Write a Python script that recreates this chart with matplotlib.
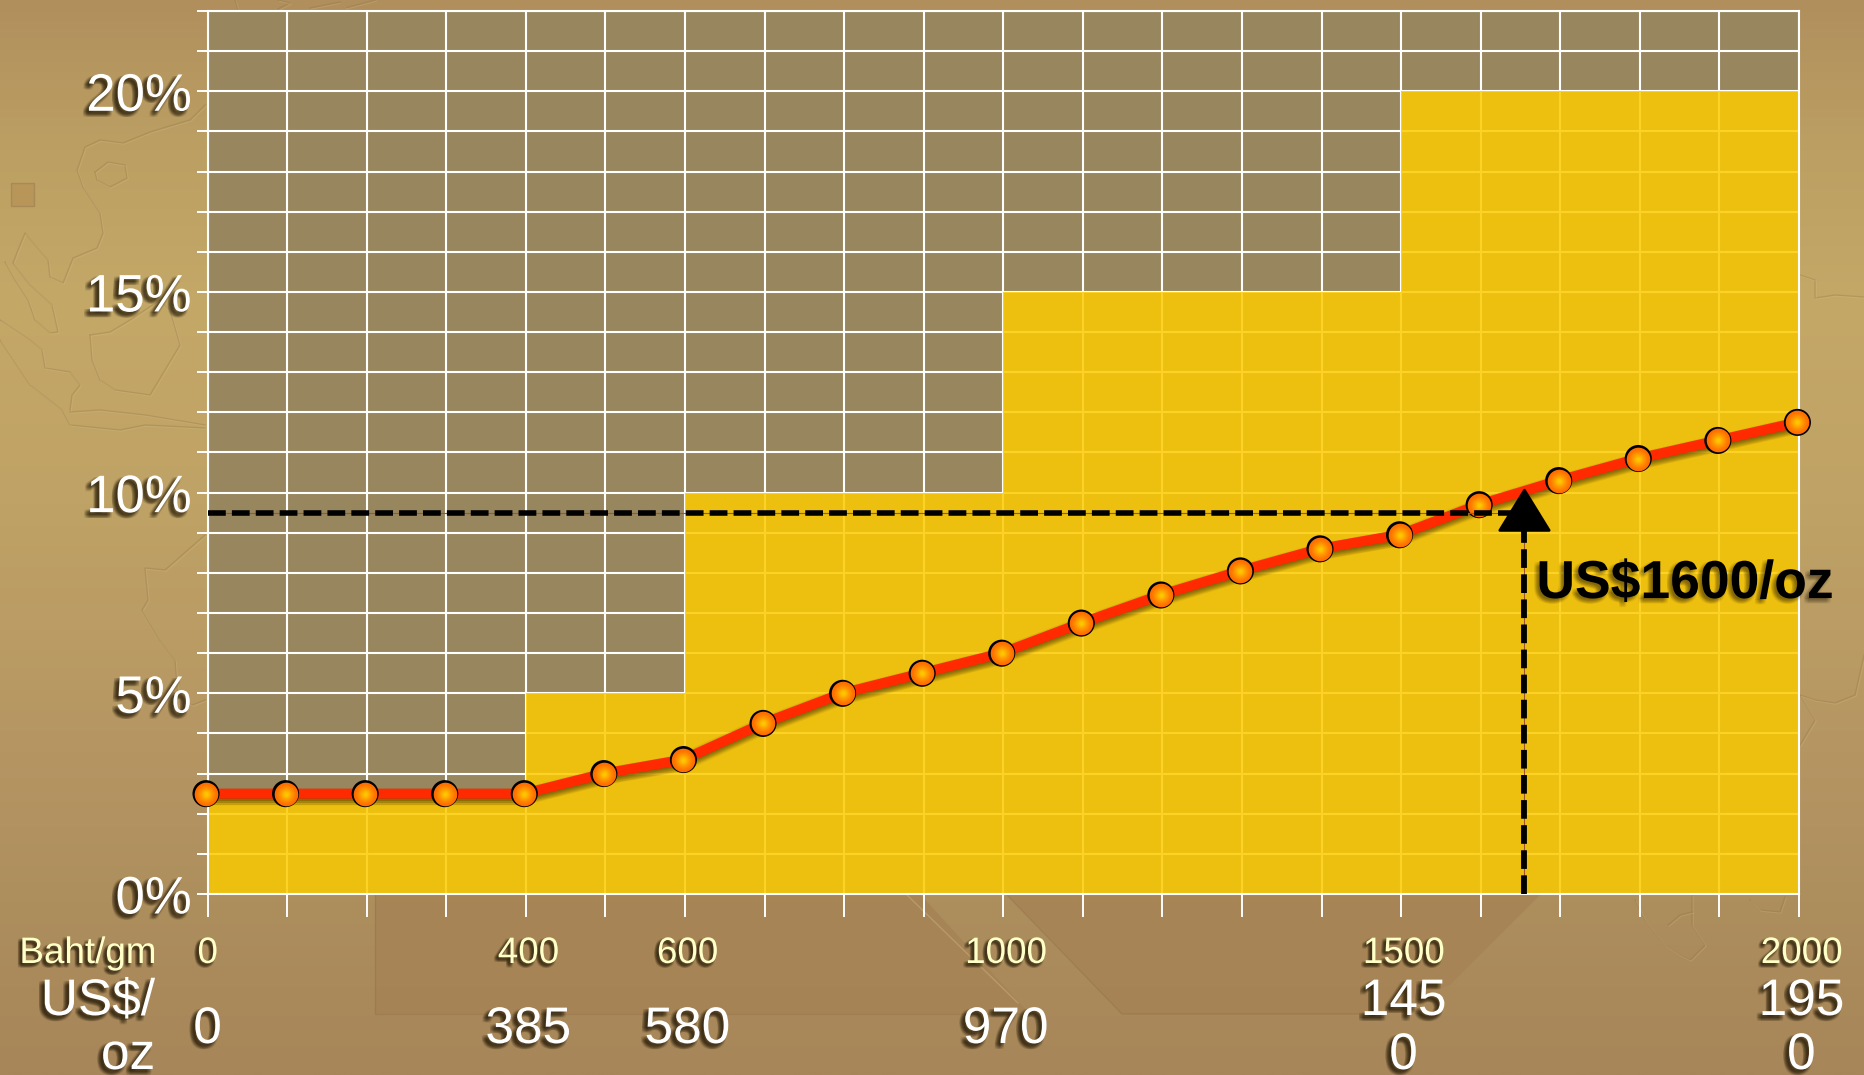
import matplotlib
matplotlib.use('Agg')
import matplotlib.pyplot as plt
import matplotlib.patheffects as pe
from matplotlib.transforms import blended_transform_factory
from matplotlib.colors import LinearSegmentedColormap, to_rgb
import numpy as np

plt.rcParams['font.family'] = ['Liberation Sans', 'DejaVu Sans']

# price steps along the x axis, one point per grid column edge
price_index = list(range(21))
effective_rate = [2.5, 2.5, 2.5, 2.5, 2.5, 3.0, 3.35, 4.25, 5.0, 5.5, 6.0,
                  6.75, 7.45, 8.05, 8.6, 8.95, 9.7, 10.3, 10.85, 11.3, 11.75]

# royalty bracket for each grid column
bracket_rate = [2.5, 2.5, 2.5, 2.5, 5, 5, 10, 10, 10, 10,
                15, 15, 15, 15, 15, 20, 20, 20, 20, 20]

# labelled positions under the axis
label_index = [0, 4, 6, 10, 15, 20]
baht_labels = ['0', '400', '600', '1000', '1500', '2000']
usd_labels = ['0', '385', '580', '970', '145\n0', '195\n0']

y_ticks = list(range(23))
y_labels = ['0%', '5%', '10%', '15%', '20%']

# the US$1600/oz read-off
read_x = 16.55
read_y = 9.5
read_label = 'US$1600/oz'

W, H = 1864, 1075
DARK = '#241a08'


def text_shadow(dist=2.6, spread=1.5, alpha=0.1):
    """fake a blurred drop shadow by stacking faint offset copies"""
    fx = []
    for dx in np.linspace(-spread, spread, 4):
        for dy in np.linspace(-spread, spread, 4):
            fx.append(pe.SimplePatchShadow(offset=(-dist + dx, -dist + dy),
                                           shadow_rgbFace=DARK, alpha=alpha))
    fx.append(pe.Normal())
    return fx


def line_shadow(dist=2.4, spread=2.2, alpha=0.05):
    fx = []
    for dx in np.linspace(-spread, spread, 4):
        for dy in np.linspace(-spread, spread, 4):
            fx.append(pe.SimpleLineShadow(offset=(-dist * 0.5 + dx, -dist + dy),
                                          shadow_color=DARK, alpha=alpha))
    fx.append(pe.Normal())
    return fx


fig = plt.figure(figsize=(W / 100, H / 100), dpi=100)

# background: gradient, the darker shapes and the embossed map
bg = fig.add_axes([0, 0, 1, 1], zorder=0)
stops = [(0.0, '#B08F5D'), (0.14, '#BCA063'), (0.28, '#C4A868'), (0.47, '#BFA265'),
         (0.70, '#B59663'), (0.84, '#AD8E5D'), (1.0, '#A78659')]
cmap = LinearSegmentedColormap.from_list('bg', stops)
grad = np.linspace(0, 1, 512).reshape(-1, 1)
bg.imshow(grad, cmap=cmap, aspect='auto', extent=(0, W, H, 0), vmin=0, vmax=1)
bg.set_xlim(0, W)
bg.set_ylim(H, 0)
bg.axis('off')

bg.fill([375, 375, 1030, 907], [880, 1014, 1014, 880], color='#A58253', alpha=0.75, lw=0)
bg.fill([993, 1122, 1370, 1450, 1555], [880, 1014, 1014, 985, 880], color='#A58253', alpha=0.75, lw=0)
bg.plot([375, 375, 1030], [890, 1014, 1014], color='#8F7147', alpha=0.4, lw=1)
bg.plot([1007, 1122, 1370], [895, 1014, 1014], color='#8F7147', alpha=0.4, lw=1)
bg.plot([907, 1018], [895, 1003], color='#C4A878', alpha=0.6, lw=1)
bg.fill([11, 34, 34, 11], [183, 183, 206, 206], facecolor='#B8965A', edgecolor='#A88A55', lw=1)

coasts = [
    [(205, 105), (190, 120), (163, 128), (150, 132), (123, 143), (100, 140), (85, 147),
     (77, 170), (83, 187), (100, 213), (103, 233), (97, 248), (73, 258), (63, 283),
     (50, 277), (48, 260), (35, 245), (25, 233), (18, 250), (13, 263), (30, 285),
     (52, 305), (58, 332), (50, 333), (35, 320), (28, 300), (15, 280), (5, 262)],
    [(95, 172), (108, 162), (125, 165), (127, 178), (110, 187), (97, 180), (95, 172)],
    [(0, 320), (30, 340), (42, 350), (45, 368), (70, 372), (80, 385), (72, 395), (70, 410)],
    [(0, 340), (30, 385), (62, 410), (70, 425), (120, 430), (145, 425), (205, 428)],
    [(70, 412), (100, 410), (145, 415), (205, 425)],
    [(90, 335), (110, 332), (130, 320), (160, 300), (170, 310), (180, 345), (165, 370),
     (150, 395), (115, 390), (100, 380), (92, 360), (90, 335)],
    [(205, 535), (165, 570), (145, 568), (148, 600), (142, 610), (160, 640), (175, 660),
     (178, 698), (192, 705), (205, 700)],
    [(1800, 275), (1815, 280), (1815, 298), (1835, 295), (1864, 297)],
    [(1800, 695), (1815, 700), (1835, 703), (1855, 695), (1864, 655)],
    [(1800, 695), (1815, 720), (1800, 745)],
    [(1635, 900), (1645, 920), (1665, 945), (1680, 955), (1690, 960), (1705, 945), (1692, 925), (1692, 895)],
    [(1668, 925), (1680, 915), (1692, 912)],
    [(1750, 900), (1760, 910), (1780, 912), (1785, 897)],
    [(235, 0), (238, 10)], [(278, 9), (290, 3), (278, 0)], [(310, 8), (340, 2), (345, 8), (375, 0)],
]
for c in coasts:
    xs = [p[0] for p in c]
    ys = [p[1] for p in c]
    bg.plot(xs, ys, color='#8D7344', alpha=0.3, lw=1.0)
    bg.plot([x + 1.2 for x in xs], [y + 1.2 for y in ys], color='#DCC68C', alpha=0.22, lw=0.8)

# the chart
ax = fig.add_axes([207.6 / W, 1 - 894 / H, (1799 - 207.6) / W, (894 - 11) / H], zorder=1)
ax.set_facecolor('#98865E')
ax.set_xlim(0, 20)
ax.set_ylim(0, 22)
ax.set_axisbelow(True)
ax.set_xticks(price_index)
ax.set_yticks(y_ticks)
ax.grid(True, color='white', lw=1.5)
ax.tick_params(axis='x', length=16.5, width=1.4, color='white', labelbottom=False)
ax.tick_params(axis='y', length=8, width=1.4, color='white', pad=3.5, labelcolor='white', labelsize=38)
ax.set_yticklabels([y_labels[t // 5] if t % 5 == 0 and t <= 20 else '' for t in y_ticks])
for lab in ax.get_yticklabels():
    lab.set_path_effects(text_shadow())
for s in ax.spines.values():
    s.set_color('white')
    s.set_linewidth(1.5)

ax.bar(np.arange(20), bracket_rate, width=1.0, align='edge', color='#FDCA00', alpha=0.85,
       linewidth=0, antialiased=False, zorder=2)

# red line with round markers, sitting a hair left of the ticks as in the original
line_x = np.array(price_index) - 0.02
ax.plot(line_x, effective_rate, color='#FF2A00', lw=7.2, zorder=4, clip_on=False,
        solid_capstyle='butt', path_effects=line_shadow())
ax.plot(line_x, effective_rate, 'o', ms=19.5, color='black', mew=0, zorder=5, clip_on=False,
        path_effects=line_shadow(dist=2.4, spread=1.8, alpha=0.05))
inner = np.array(to_rgb('#FF6C00'))
core = np.array(to_rgb('#FFC400'))
for k, ms in enumerate(np.linspace(17, 3, 10)):
    col = inner + (core - inner) * (k / 9) ** 1.3
    ax.plot(line_x, effective_rate, 'o', ms=ms, color=col, mew=0, zorder=6, clip_on=False)

# read-off dashes and triangle
ax.plot([0, read_x], [read_y, read_y], color='#A0562A', lw=0.8, zorder=7)
ax.plot([read_x, read_x], [0, read_y], color='#A0562A', lw=0.8, zorder=7)
ax.plot([0, read_x], [read_y, read_y], color='black', lw=4, dashes=(3.2, 1.1),
        dash_capstyle='butt', zorder=8)
ax.plot([read_x, read_x], [0, read_y - 0.4], color='black', lw=4.2, dashes=(3.2, 1.1),
        dash_capstyle='butt', zorder=8)
ax.fill([read_x - 0.31, read_x, read_x + 0.31], [read_y - 0.44, read_y + 0.56, read_y - 0.44],
        facecolor='black', edgecolor='black', lw=2, joinstyle='round', zorder=9)

trans = blended_transform_factory(ax.transData, fig.transFigure)


def ypx(y):
    return 1 - y / H


ax.text(read_x + 0.15, ypx(598), read_label, transform=trans, fontsize=38.5, fontweight='bold',
        color='black', ha='left', va='baseline', zorder=10, clip_on=False,
        path_effects=text_shadow(dist=2.2, spread=1.5, alpha=0.045))

# two rows of labels under the axis
cream = '#FFFFC8'
for i, t in zip(label_index, baht_labels):
    shift = 0.03 if i else 0
    ax.text(i + shift, ypx(963), t, transform=trans, fontsize=26.5, color=cream, ha='center', va='baseline',
            clip_on=False, path_effects=text_shadow(dist=2.0, spread=1.2))
ax.text(-0.65, ypx(963), 'Baht/gm', transform=trans, fontsize=26.5, color=cream, ha='right', va='baseline',
        clip_on=False, path_effects=text_shadow(dist=2.0, spread=1.2))

for i, t in zip(label_index, usd_labels):
    parts = t.split('\n')
    shift = 0.03 if i else 0
    if len(parts) == 1:
        ax.text(i + shift, ypx(1043), parts[0], transform=trans, fontsize=37, color='white', ha='center',
                va='baseline', clip_on=False, path_effects=text_shadow())
    else:
        ax.text(i + shift, ypx(1015), parts[0], transform=trans, fontsize=37, color='white', ha='center',
                va='baseline', clip_on=False, path_effects=text_shadow())
        ax.text(i + shift, ypx(1069), parts[1], transform=trans, fontsize=37, color='white', ha='center',
                va='baseline', clip_on=False, path_effects=text_shadow())
ax.text(-0.66, ypx(1015), 'US$/', transform=trans, fontsize=37, color='white', ha='right', va='baseline',
        clip_on=False, path_effects=text_shadow())
ax.text(-0.66, ypx(1069), 'oz', transform=trans, fontsize=37, color='white', ha='right', va='baseline',
        clip_on=False, path_effects=text_shadow())

fig.savefig('out.png', dpi=100)
